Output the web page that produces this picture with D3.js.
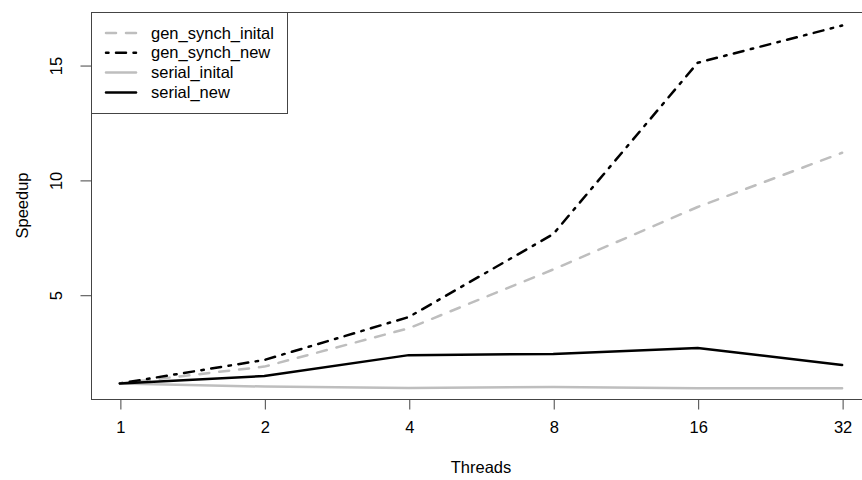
<!DOCTYPE html>
<html>
<head>
<meta charset="utf-8">
<script src="https://cdn.jsdelivr.net/npm/d3@7/dist/d3.min.js"></script>
<style>
  html, body { margin: 0; padding: 0; background: #fff; }
  svg { display: block; font-family: "Liberation Sans", Arial, Helvetica, sans-serif; }
</style>
</head>
<body>
<svg id="chart" width="862" height="480"></svg>
<script>
// Thread counts on the x axis (evenly spaced categories)
const threads = ["1", "2", "4", "8", "16", "32"];

// Speedup per implementation
const genSynchInital = [1.14, 1.87, 3.54, 6.10, 8.82, 11.18];
const genSynchNew    = [1.14, 2.16, 4.03, 7.64, 15.10, 16.72];
const serialInital   = [1.14, 1.00, 0.94, 0.98, 0.93, 0.93];
const serialNew      = [1.14, 1.46, 2.37, 2.42, 2.68, 1.94];

const yTicks = [5, 10, 15];

const seriesNames = ["gen_synch_inital", "gen_synch_new", "serial_inital", "serial_new"];
const seriesValues = [genSynchInital, genSynchNew, serialInital, serialNew];
const seriesColors = ["#bebebe", "#000000", "#bebebe", "#000000"];
const seriesDash = ["10,10", "2.5,7.5,10,7.5", null, null];

const svg = d3.select("#chart");
const W = 862, H = 480;
const plot = { left: 91, right: 871, top: 12, bottom: 399 };

// Index-based x scale, padded 4% of the range on each side
const x = d3.scaleLinear().domain([0.8, 6.2]).range([plot.left, plot.right]);
const y = d3.scaleLinear().domain([0.46, 17.31]).range([plot.bottom, plot.top]);

const axisColor = "#444";
const fontSize = "16.5px";

// Series lines
const line = d3.line()
  .x((d, i) => x(i + 1))
  .y(d => y(d));

seriesValues.forEach((vals, k) => {
  svg.append("path")
    .datum(vals)
    .attr("d", line)
    .attr("fill", "none")
    .attr("stroke", seriesColors[k])
    .attr("stroke-width", 2.5)
    .attr("stroke-linecap", "round")
    .attr("stroke-linejoin", "round")
    .attr("stroke-dasharray", seriesDash[k]);
});

// Plot frame
svg.append("rect")
  .attr("x", plot.left + 0.5)
  .attr("y", plot.top + 0.5)
  .attr("width", plot.right - plot.left)
  .attr("height", plot.bottom - plot.top)
  .attr("fill", "none")
  .attr("stroke", axisColor)
  .attr("stroke-width", 1);

// Bottom axis
const xAxis = d3.axisBottom(x)
  .tickValues(d3.range(1, threads.length + 1))
  .tickFormat(i => threads[i - 1])
  .tickSize(10)
  .tickPadding(12);
const gx = svg.append("g")
  .attr("transform", `translate(0.5,${plot.bottom + 0.5})`)
  .call(xAxis);
gx.select(".domain").attr("stroke", axisColor)
  .attr("d", `M${x(1)},0H${x(threads.length)}`);
gx.selectAll(".tick line").attr("stroke", axisColor);
gx.selectAll(".tick text")
  .attr("fill", "#000")
  .style("font-size", fontSize)
  .style("font-family", "\"Liberation Sans\", Arial, sans-serif");

// Left axis with rotated labels
const yAxis = d3.axisLeft(y)
  .tickValues(yTicks)
  .tickSize(11)
  .tickFormat(d3.format("d"));
const gy = svg.append("g")
  .attr("transform", `translate(${plot.left + 0.5},0.5)`)
  .call(yAxis);
gy.select(".domain").attr("stroke", axisColor)
  .attr("d", `M0,${y(yTicks[0])}V${y(yTicks[yTicks.length - 1])}`);
gy.selectAll(".tick line").attr("stroke", axisColor);
gy.selectAll(".tick text")
  .attr("x", null)
  .attr("dy", null)
  .attr("text-anchor", "middle")
  .attr("transform", "translate(-30,0) rotate(-90)")
  .attr("fill", "#000")
  .style("font-size", fontSize)
  .style("font-family", "\"Liberation Sans\", Arial, sans-serif");

// Axis titles
svg.append("text")
  .attr("x", (x(1) + x(threads.length)) / 2)
  .attr("y", 473)
  .attr("text-anchor", "middle")
  .style("font-size", fontSize)
  .text("Threads");

svg.append("text")
  .attr("transform", `translate(28,${(plot.top + plot.bottom) / 2}) rotate(-90)`)
  .attr("text-anchor", "middle")
  .style("font-size", fontSize)
  .text("Speedup");

// Legend
const legend = svg.append("g");
legend.append("rect")
  .attr("x", plot.left + 0.5)
  .attr("y", plot.top + 0.5)
  .attr("width", 196)
  .attr("height", 101)
  .attr("fill", "#fff")
  .attr("stroke", axisColor)
  .attr("stroke-width", 1);

seriesNames.forEach((name, k) => {
  const cy = 33 + k * 19.8;
  legend.append("line")
    .attr("x1", 106).attr("x2", 136)
    .attr("y1", cy).attr("y2", cy)
    .attr("stroke", seriesColors[k])
    .attr("stroke-width", 2.5)
    .attr("stroke-linecap", "round")
    .attr("stroke-dasharray", seriesDash[k]);
  legend.append("text")
    .attr("x", 151)
    .attr("y", cy + 5.5)
    .style("font-size", fontSize)
    .text(name);
});
</script>
</body>
</html>
